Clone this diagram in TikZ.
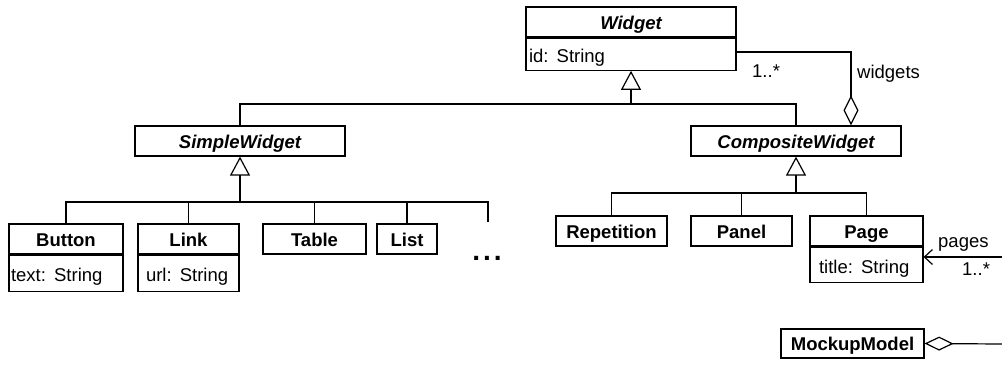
\documentclass[tikz,border=0pt]{standalone}
\usepackage{fontspec}
\setmainfont{Liberation Sans}
\usetikzlibrary{arrows.meta,calc}
\begin{document}
\begin{tikzpicture}[x=1pt,y=-1pt,
  cls/.style={draw, line width=1.2pt, inner sep=0pt, minimum height=30pt, text height=14pt, text depth=0pt, font=\fontsize{18.5}{22}\selectfont\bfseries},
  abscls/.style={cls, font=\fontsize{18.5}{22}\selectfont\bfseries\itshape},
  attr/.style={draw, line width=1.2pt, anchor=north, inner ysep=0pt, text height=17pt, text depth=0pt, align=left, font=\fontsize{18.5}{22}\selectfont\frenchspacing},
  lbl/.style={inner sep=0pt, anchor=base west, font=\fontsize{18.5}{22}\selectfont},
  ln/.style={line width=1.2pt},
  gen/.style={ln, {Triangle[open,length=19pt,width=20pt]}-},
  nav/.style={ln, -{Straight Barb[length=8pt,width=15pt]}},
]
\useasboundingbox (0,0) rectangle (1002,365);

% classes
\node[abscls, minimum width=210pt] (Widget) at (631,22) {Widget};
\node[attr, text width=204pt, inner xsep=3pt, minimum height=32pt] (Widget-a) at (Widget.south) {id:\kern2pt\ String};

\node[abscls, minimum width=210pt] (Simple) at (240,141) {SimpleWidget};
\node[abscls, minimum width=210pt] (Comp) at (796,141) {CompositeWidget};

\node[cls, minimum width=114pt] (Button) at (66,239) {Button};
\node[attr, text width=110pt, inner xsep=2pt, minimum height=36pt] (Button-a) at (Button.south) {text:\kern2pt\ String};
\node[cls, minimum width=101pt] (Link) at (188.5,239) {Link};
\node[attr, text width=85pt, inner xsep=8pt, minimum height=36pt] (Link-a) at (Link.south) {url:\kern2pt\ String};
\node[cls, minimum width=103pt] (Table) at (314.5,239) {Table};
\node[cls, minimum width=60pt] (List) at (407,239) {List};
\node[inner sep=0pt, anchor=base, font=\fontsize{28}{30}\selectfont\bfseries] (dots) at (487,260) {.\kern3pt.\kern3pt.};

\node[cls, minimum width=111pt] (Rep) at (611.5,231) {Repetition};
\node[cls, minimum width=101pt] (Panel) at (741.5,231) {Panel};
\node[cls, minimum width=113pt] (Page) at (866.5,231) {Page};
\node[attr, text width=95pt, inner xsep=9pt, minimum height=35pt] (Page-a) at (Page.south) {title:\kern2pt\ String};

\node[cls, minimum width=143pt, minimum height=29pt] (Mock) at (852.5,343.5) {MockupModel};

% free ends
\coordinate (j1) at (631,104);
\coordinate (j2) at (240,202);
\coordinate (j3) at (796,193);
\coordinate (stub) at (488,222);
\coordinate (agg) at (851,52);
\coordinate (pgR) at (1002,257);
\coordinate (mmR) at (1002,344);

% generalization trees
\draw[gen] (Widget-a.south) -- (j1);
\draw[ln] (Simple.north) -- (Simple.north |- j1) -- (Comp.north |- j1) -- (Comp.north);

\draw[gen] (Simple.south) -- (j2);
\draw[ln] (Button.north) -- (Button.north |- j2) -- (stub |- j2) -- (stub);
\draw[ln] (Link.north) -- (Link.north |- j2);
\draw[ln] (Table.north) -- (Table.north |- j2);
\draw[ln] (List.north) -- (List.north |- j2);

\draw[gen] (Comp.south) -- (j3);
\draw[ln] (Rep.north) -- (Rep.north |- j3) -- (Page.north |- j3) -- (Page.north);
\draw[ln] (Panel.north) -- (Panel.north |- j3);

% associations
\draw[nav, {Diamond[open,length=30pt,width=15pt]}-] (Comp.north -| agg) -- (agg) -- (agg -| Widget-a.east);
\node[lbl] (lw) at (857,78) {widgets};
\node[lbl] (lm1) at (752,77) {1..*};

\draw[nav] (pgR) -- (pgR -| Page-a.east);
\node[lbl] (lp) at (938,247) {pages};
\node[lbl] (lm2) at (962,275) {1..*};

\draw[ln, {Diamond[open,length=29pt,width=14pt]}-] (Mock.east) -- (mmR);
\end{tikzpicture}
\end{document}
